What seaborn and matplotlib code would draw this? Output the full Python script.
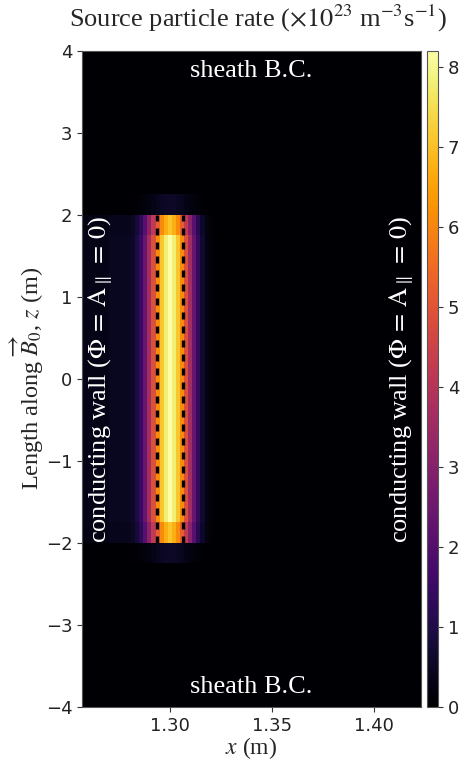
import numpy as np
import matplotlib
matplotlib.use("Agg")
import matplotlib.pyplot as plt
import seaborn as sns

# --- donnees ---
# bords des cellules en x (m) : une grande cellule a gauche, cellules fines autour de la source, une grande a droite
x_edges = [1.257, 1.270, 1.279,
           1.281, 1.283, 1.285, 1.287, 1.289, 1.291, 1.293, 1.295, 1.297, 1.299,
           1.301, 1.303, 1.305, 1.307, 1.309, 1.311, 1.313, 1.315, 1.317, 1.319, 1.321,
           1.423]
# profil radial de la source (x10^23 m^-3 s^-1), une valeur par cellule
source_x = [0.35, 0.45,
            0.5, 0.6, 0.9, 1.5, 2.4, 3.6, 4.9, 6.1, 7.1, 7.8,
            8.2,
            7.8, 7.1, 6.1, 4.9, 3.6, 2.4, 1.4, 0.7, 0.3, 0.1,
            0.0]
# bords des cellules en z (m) et profil axial (fraction)
z_edges = [-4.0, -2.25, -2.0, -1.75, 1.75, 2.0, 2.25, 4.0]
source_z = [0.0, 0.07, 0.86, 1.0, 0.86, 0.07, 0.0]

x_ticks = [1.30, 1.35, 1.40]
z_ticks = [-4, -3, -2, -1, 0, 1, 2, 3, 4]
cbar_ticks = [0, 1, 2, 3, 4, 5, 6, 7, 8]
vmax = 8.2
# limites de la source (tirets)
x_dash = [1.2935, 1.3065]
z_dash = [-2.0, 2.0]

sns.set_style("ticks")
plt.rcParams["font.family"] = ["DejaVu Sans"]
plt.rcParams["mathtext.fontset"] = "stix"

serif = ["Liberation Serif", "DejaVu Serif"]
field = np.outer(source_z, source_x)
cmap = sns.color_palette("inferno", as_cmap=True)

fig = plt.figure(figsize=(4.64, 7.62), dpi=100)
ax = fig.add_axes([0.1767, 0.0722, 0.7306, 0.861])
cax = fig.add_axes([0.920, 0.0722, 0.0237, 0.861])

mesh = ax.pcolormesh(x_edges, z_edges, field, cmap=cmap, vmin=0, vmax=vmax)
for xd in x_dash:
    ax.plot([xd, xd], z_dash, color="black", lw=2.4, linestyle=(0, (2.1, 2.1)))

ax.set_xlim(x_edges[0], x_edges[-1])
ax.set_ylim(-4, 4)
ax.set_xticks(x_ticks)
ax.set_xticklabels([f"{t:.2f}" for t in x_ticks])
ax.set_yticks(z_ticks)
ax.tick_params(labelsize=13, colors="#333333", labelcolor="#222222")
ax.grid(True, color="#999999", linestyle=":", lw=0.8, alpha=0.6)
for sp in ax.spines.values():
    sp.set_color("#555555")

ax.set_xlabel(r"$x$ (m)", fontsize=17, family=serif, labelpad=0)
ax.set_ylabel(r"Length along $\overrightarrow{B}_0$, $z$ (m)", fontsize=17.5, family=serif, labelpad=0)

# annotations
ax.text(0.5, 0.970, "sheath B.C.", transform=ax.transAxes, ha="center", va="center",
        color="white", fontsize=19, family=serif)
ax.text(0.5, 0.030, "sheath B.C.", transform=ax.transAxes, ha="center", va="center",
        color="white", fontsize=19, family=serif)
wall = r"conducting wall ($\Phi\,=\,\mathrm{A}_{\parallel}\,=\,0$)"
ax.text(0.055, 0.5, wall, transform=ax.transAxes, ha="center", va="center", rotation=90,
        color="white", fontsize=19, family=serif)
ax.text(0.945, 0.5, wall, transform=ax.transAxes, ha="center", va="center", rotation=90,
        color="white", fontsize=19, family=serif)

cb = fig.colorbar(mesh, cax=cax, ticks=cbar_ticks)
cb.ax.tick_params(labelsize=13, colors="#333333", labelcolor="#222222")
cb.outline.set_edgecolor("#555555")

fig.text(0.555, 0.976, r"Source particle rate ($\times10^{23}$ m$^{-3}$s$^{-1}$)",
         ha="center", va="center", fontsize=19, family=serif)

fig.savefig("out.png", dpi=100)
